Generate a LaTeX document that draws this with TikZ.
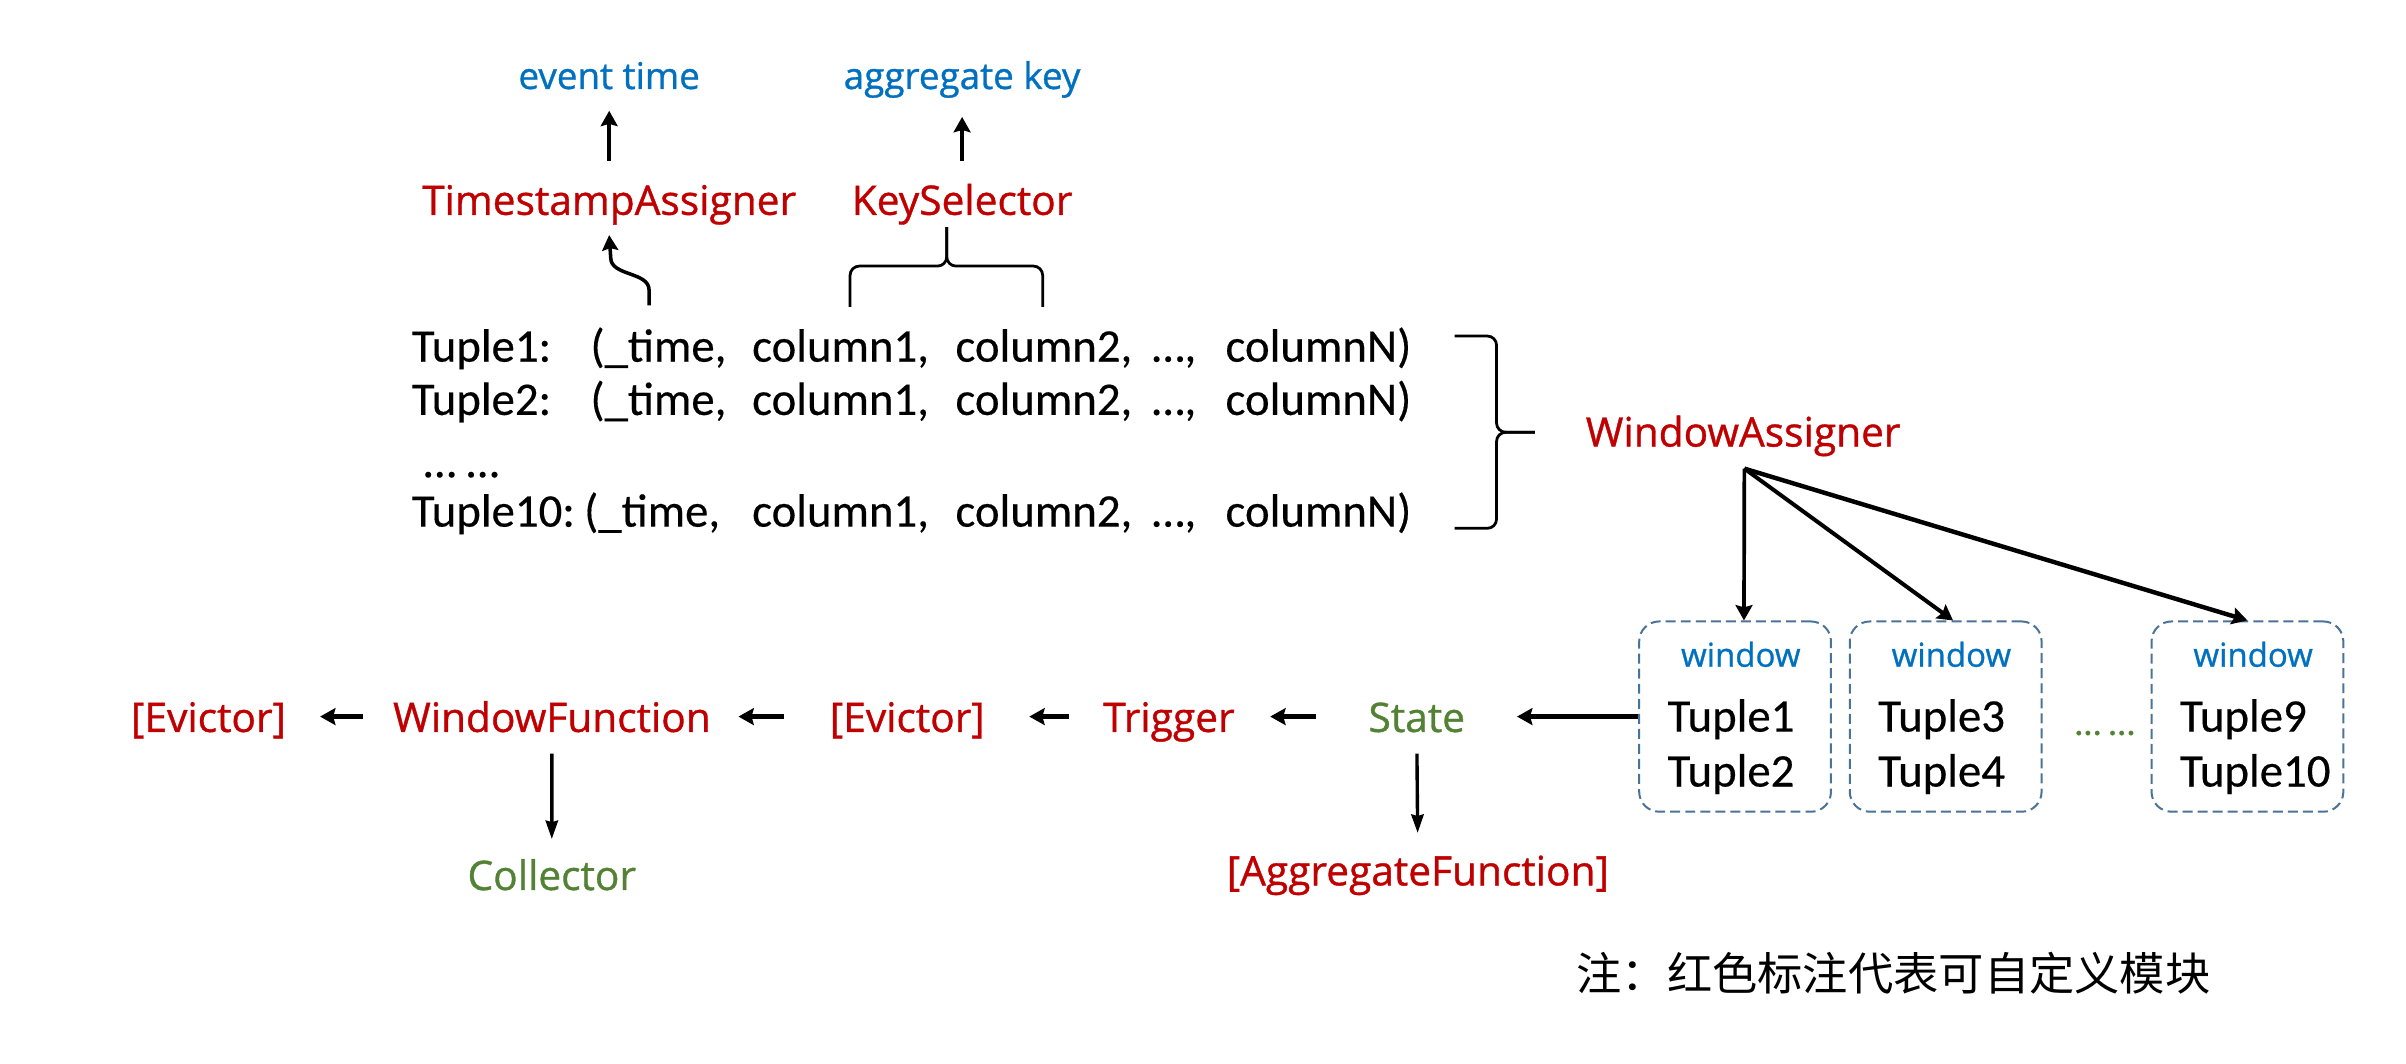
\documentclass[tikz,border=0pt]{standalone}
\usepackage{fontspec}
\setmainfont[FakeBold=0.35]{Carlito}
\newfontfamily\labelfont[FakeBold=0.9]{Open Sans}
\newfontfamily\notefont{Noto Sans CJK SC}
\usetikzlibrary{arrows.meta,calc}
\definecolor{custred}{HTML}{C00000}
\definecolor{infoblue}{HTML}{0070C0}
\definecolor{fixgreen}{HTML}{548235}
\definecolor{boxline}{HTML}{4A7399}

\begin{document}
\begin{tikzpicture}[x=1pt,y=-1pt,
  lab/.style={inner sep=0pt, anchor=base, text height=20pt, text depth=0pt,
    font=\labelfont\fontsize{26.5}{30}\selectfont},
  custom/.style={lab, text=custred},
  fixed/.style={lab, text=fixgreen},
  info/.style={lab, text=infoblue, font=\labelfont\fontsize{24}{28}\selectfont},
  wintitle/.style={lab, text=infoblue, font=\labelfont\fontsize{21.5}{25}\selectfont},
  tup/.style={inner sep=0pt, anchor=base west, font=\fontsize{30.5}{34}\selectfont},
  win/.style={draw=boxline, line width=1.3pt, dash pattern=on 6.5pt off 3.3pt,
    rounded corners=13pt, minimum width=125pt, minimum height=124pt, inner sep=0pt},
  arr/.style={line width=2.8pt, -{Stealth[length=10pt,width=11pt,inset=1.5pt]}},
  downarr/.style={line width=2.2pt, -{Stealth[length=12pt,width=8pt,inset=1pt]}},
  brace/.style={line width=1.8pt, rounded corners=6pt}
]
\fill[white] (0,0) rectangle (1568,693);
\useasboundingbox (0,0) rectangle (1568,693);

% --- key and timestamp extraction ---
\node[info, minimum width=118pt] (et) at (397,58) {event time};
\node[info, minimum width=158pt] (ak) at (627,58) {aggregate key};
\node[custom, minimum width=251pt] (ts) at (397,140) {TimestampAssigner};
\node[custom, minimum width=157pt] (ks) at (627,140) {KeySelector};
\draw[arr, shorten <=15pt, shorten >=14pt] (ts.north) -- (et.south);
\draw[arr, shorten <=15pt, shorten >=18pt] (ks.north) -- (ak.south);

% --- input tuples ---
\foreach \n/\y/\px in {1/235.7/384.6, 2/270.4/384.6, 10/343.2/380.5} {
  \node[tup] (t\n-id)  at (268.2,\y) {Tuple\n:};
  \node[tup] (t\n-tm)  at (\px,\y)   {(\_time,};
  \node[tup] (t\n-c1)  at (490,\y)   {column1,};
  \node[tup] (t\n-c2)  at (622.5,\y) {column2,};
  \node[tup] (t\n-dt)  at (750.7,\y) {…,};
  \node[tup] (t\n-cn)  at (798.5,\y) {columnN)};
}
\node[tup] (tdots) at (276,311) {… …};

% timestamp field feeds the TimestampAssigner
\coordinate (tsrc) at (423,199);
\draw[line width=2.3pt, -{Stealth[length=10pt,width=10.5pt,inset=1.5pt]}]
  (tsrc) -- (423,189) .. controls (423,177) and (398,180) .. (398,168)
  -- ([yshift=-13pt]ts.south);

% key columns grouped under the KeySelector
\draw[brace] (554,200) -- (554,173.4) -- (617,173.4) -- (617,148);
\draw[brace] (679.5,200) -- (679.5,173.4) -- (617,173.4) -- (617,148);

% all tuples go to the WindowAssigner
\draw[brace] (948,219) -- (975.3,219) -- (975.3,281.7) -- (1000.3,281.7);
\draw[brace] (948,344.3) -- (975.3,344.3) -- (975.3,281.7) -- (1000.3,281.7);
\node[custom, minimum width=210pt] (wa) at (1136,291) {WindowAssigner};
\coordinate (fan) at ($(wa.south)+(0.8,14.2)$);

% --- windows ---
\node[win] (w1) at (1130.75,467) {};
\node[win] (w2) at (1268,467) {};
\node[win] (w3) at (1464.65,467) {};
\draw[arr, line width=2.4pt] (fan) -- ([xshift=5.8pt]w1.north);
\draw[arr, line width=2.6pt] (fan) -- ([xshift=4.8pt]w2.north);
\draw[arr, line width=2.9pt] (fan) -- (w3.north);

\foreach \b/\a/\c in {w1/1/2, w2/3/4, w3/9/10} {
  \node[wintitle] (\b-t) at ($(\b.center)+(3.7,-32.5)$) {window};
  \node[tup] (\b-a) at ($(\b.west)+(19,9.8)$) {Tuple\a};
  \node[tup] (\b-b) at ($(\b.west)+(19,45.6)$) {Tuple\c};
}
\node[tup, text=fixgreen, font=\fontsize{24}{28}\selectfont] (gdots) at (1352.3,479) {… …};

% --- processing chain ---
\node[custom, minimum width=114.3pt] (ev1) at (135.9,477) {[Evictor]};
\node[custom, minimum width=209.7pt] (wf)  at (359.7,477) {WindowFunction};
\node[custom, minimum width=114.6pt] (ev2) at (591.3,477) {[Evictor]};
\node[custom, minimum width=96.4pt]  (tr)  at (761.8,477) {Trigger};
\node[fixed,  minimum width=73.3pt]  (st)  at (923.3,477) {State};
\node[fixed,  minimum width=116.2pt] (col) at (359.6,580) {Collector};
\node[custom, minimum width=264.6pt] (agg) at (924,577) {[AggregateFunction]};

\draw[arr, shorten <=17.85pt, shorten >=15.35pt] (wf.west) -- (ev1.east);
\draw[arr, shorten <=23pt, shorten >=16.5pt] (ev2.west) -- (wf.east);
\draw[arr, shorten <=16.6pt, shorten >=22pt] (tr.west) -- (ev2.east);
\draw[arr, shorten <=28.6pt, shorten >=17.6pt] (st.west) -- (tr.east);
\draw[arr, shorten >=28.5pt] (w1.west) -- (st.east);
\draw[downarr, shorten <=14pt, shorten >=13pt] (wf.south) -- (col.north);
\draw[downarr, shorten <=14pt, shorten >=14pt] (st.south) -- (agg.north);

% --- legend ---
\node[inner sep=0pt, font=\notefont\fontsize{29.5}{32}\selectfont] (note) at (1234,634)
  {注：红色标注代表可自定义模块};
\end{tikzpicture}
\end{document}
